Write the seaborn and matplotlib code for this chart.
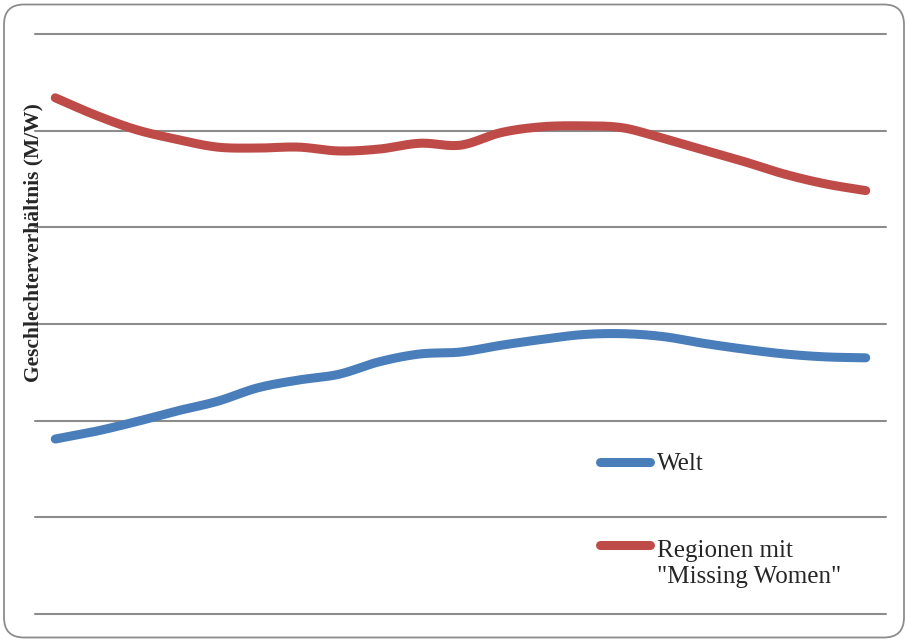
import numpy as np
import pandas as pd
import matplotlib
matplotlib.use("Agg")
import matplotlib.pyplot as plt
from matplotlib.patches import FancyBboxPatch
from matplotlib.lines import Line2D
import seaborn as sns

# Sex ratio (men per woman), five-year steps
years = list(range(1950, 2051, 5))
welt = [0.9981, 0.9989, 0.9999, 1.0010, 1.0020, 1.0034, 1.0042, 1.0048,
        1.0061, 1.0069, 1.0071, 1.0078, 1.0084, 1.0089, 1.0090, 1.0087,
        1.0080, 1.0074, 1.0069, 1.0066, 1.0065]
regionen = [1.0334, 1.0316, 1.0301, 1.0291, 1.0283, 1.0282, 1.0283, 1.0279,
            1.0281, 1.0287, 1.0285, 1.0298, 1.0304, 1.0305, 1.0303, 1.0292,
            1.0280, 1.0268, 1.0255, 1.0245, 1.0238]
series_names = ["Welt", 'Regionen mit\n"Missing Women"']
y_ticks = [0.98, 0.99, 1.00, 1.01, 1.02, 1.03, 1.04]
colors = ["#4A7EBB", "#BE4B48"]


def smooth(x, y, n=16):
    """Cubic Hermite curve through the points with Catmull-Rom tangents."""
    x = np.asarray(x, float)
    y = np.asarray(y, float)
    m = np.gradient(y, x)
    xs, ys = [], []
    t = np.linspace(0, 1, n, endpoint=False)
    h00 = 2 * t**3 - 3 * t**2 + 1
    h10 = t**3 - 2 * t**2 + t
    h01 = -2 * t**3 + 3 * t**2
    h11 = t**3 - t**2
    for i in range(len(x) - 1):
        h = x[i + 1] - x[i]
        xs.append(x[i] + t * h)
        ys.append(h00 * y[i] + h10 * h * m[i] + h01 * y[i + 1] + h11 * h * m[i + 1])
    xs.append([x[-1]])
    ys.append([y[-1]])
    return np.concatenate(xs), np.concatenate(ys)


frames = []
for name, vals in zip(series_names, [welt, regionen]):
    sx, sy = smooth(years, vals)
    frames.append(pd.DataFrame({"Jahr": sx, "Verhältnis": sy, "Reihe": name}))
df = pd.concat(frames, ignore_index=True)

sns.set_theme(style="white")
plt.rcParams["font.family"] = ["Liberation Serif", "DejaVu Serif"]

W, H = 907, 641
fig = plt.figure(figsize=(W / 100, H / 100), dpi=100)
ax = fig.add_axes([35 / W, 27 / H, 851 / W, 580 / H])

lw = 6.5
sns.lineplot(data=df, x="Jahr", y="Verhältnis", hue="Reihe",
             palette=dict(zip(series_names, colors)), estimator=None,
             sort=False, linewidth=lw, legend=False, ax=ax,
             solid_capstyle="round", solid_joinstyle="round")

ax.set_xlim(years[0] - 2.5, years[-1] + 2.5)
ax.set_ylim(y_ticks[0], y_ticks[-1])
ax.set_yticks(y_ticks)
ax.set_yticklabels([])
ax.set_xticks([])
ax.set_xlabel("")
ax.set_ylabel("")
ax.tick_params(left=False, bottom=False)
ax.grid(axis="y", color="#8C8C8C", linewidth=1.5)
for gl in ax.get_ygridlines():
    gl.set_clip_on(False)
ax.set_axisbelow(True)
for s in ax.spines.values():
    s.set_visible(False)

# Rounded outer frame
frame = FancyBboxPatch((0.04, 0.035), 9.0, 6.33,
                       boxstyle="round,pad=0,rounding_size=0.2",
                       transform=fig.dpi_scale_trans, facecolor="none",
                       edgecolor="#8C8C8C", linewidth=1.3, zorder=0)
fig.patches.append(frame)

fig.text(33 / W, 1 - 243 / H, "Geschlechterverhältnis (M/W)", rotation=90,
         ha="center", va="center", fontsize=15.5, fontweight="bold")

# Legend entries: (line y, last-line baseline y) in pixels from the top
legend_rows = [(462, 470), (545, 583)]
for name, col, (ly, by) in zip(series_names, colors, legend_rows):
    fig.add_artist(Line2D([600 / W, 650 / W], [1 - ly / H, 1 - ly / H],
                          transform=fig.transFigure, color=col, linewidth=lw,
                          solid_capstyle="round"))
    fig.text(657 / W, 1 - by / H, name, ha="left", va="baseline",
             fontsize=18, linespacing=1.22)

fig.savefig("out.png", dpi=100)
